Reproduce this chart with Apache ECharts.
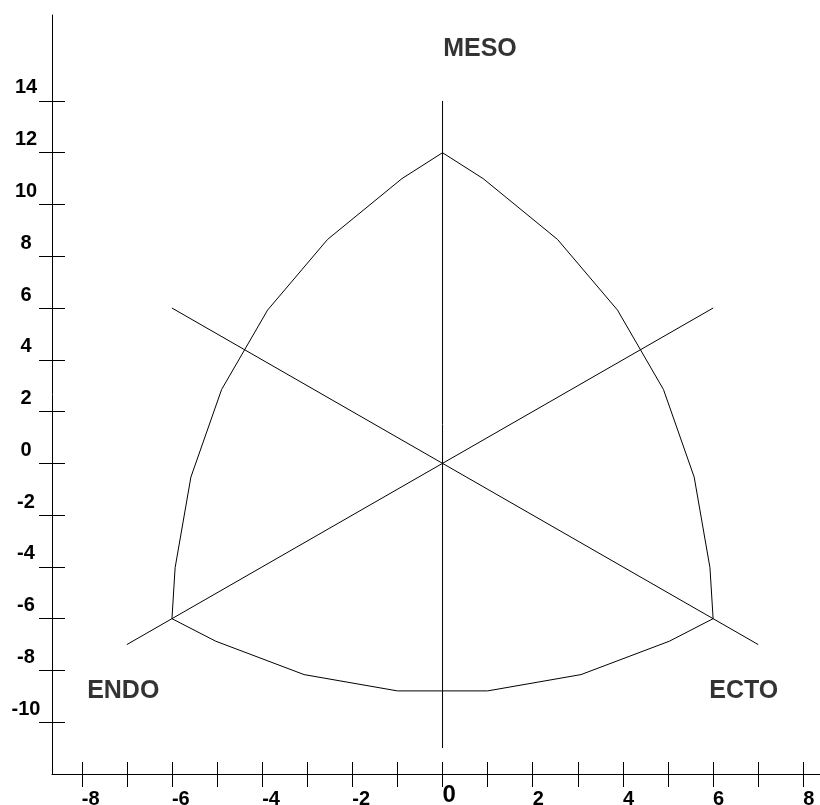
<!DOCTYPE html>
<html style="height: 100%">
<head>
    <meta charset="utf-8">
</head>
<body style="height: 100%;width: 100%;margin: 0;">
    <div id="container" style="width: 820px;height: 805px;"></div>
    <script type="text/javascript" src="https://cdn.jsdelivr.net/npm/echarts@6/dist/echarts.min.js"></script>
    <script type="text/javascript">
        // somatochart outline, clockwise from the top
        var outlineX = [0, 0.9, 2.55, 3.88, 4.9, 5.58, 5.93, 6, 5.03, 3.07, 1.0, -1.0, -3.07, -5.03, -6, -5.93, -5.58, -4.9, -3.88, -2.55, -0.9, 0];
        var outlineY = [12, 11, 8.65, 5.92, 2.85, -0.53, -4.03, -6, -6.87, -8.16, -8.79, -8.79, -8.16, -6.87, -6, -4.03, -0.53, 2.85, 5.92, 8.65, 11, 12];

        // the three axes of the triangle
        var mesoAxis = [[0, 14], [0, -11]];
        var endoAxis = [[6, 6], [-7, -7]];
        var ectoAxis = [[-6, 6], [7, -7]];

        var cornerNames = ['MESO', 'ENDO', 'ECTO'];
        var cornerPos = [[0.83, 16.0], [-7.08, -8.81], [6.68, -8.81]];

        var xTicks = [-8, -7, -6, -5, -4, -3, -2, -1, 0, 1, 2, 3, 4, 5, 6, 7, 8];
        var xLabels = [-8, -6, -4, -2, 2, 4, 6, 8];
        var xZeroLabel = [0];
        var yTicks = [-10, -8, -6, -4, -2, 0, 2, 4, 6, 8, 10, 12, 14];

        var outline = outlineX.map(function (x, i) { return [x, outlineY[i]]; });
        var corners = cornerNames.map(function (n, i) { return { name: n, value: cornerPos[i] }; });

        var dom = document.getElementById("container");
        var myChart = echarts.init(dom);

        var font = 'Liberation Sans, Arial, sans-serif';
        var lineStyle = { color: '#000', width: 1 };
        var xMin = -8.66, xMax = 8.37, yMin = -12, yMax = 17.32;

        var option = {
            animation: false,
            backgroundColor: '#fff',
            grid: { left: 52, right: 0, top: 15, bottom: 31, outerBoundsMode: 'none' },
            xAxis: [{
                type: 'value', min: xMin, max: xMax, position: 'bottom',
                splitLine: { show: false },
                axisLine: { onZero: false, lineStyle: lineStyle },
                axisTick: { customValues: xTicks, length: 13, inside: false, lineStyle: lineStyle },
                axisLabel: {
                    customValues: xLabels, margin: 15, align: 'left',
                    fontFamily: font, fontWeight: 'bold', fontSize: 20, color: '#000'
                }
            }, {
                type: 'value', min: xMin, max: xMax, position: 'bottom',
                splitLine: { show: false },
                axisLine: { show: false, onZero: false },
                axisTick: { customValues: xTicks, length: 12, inside: true, lineStyle: lineStyle },
                axisLabel: { show: false }
            }, {
                // the 0 under the origin is printed larger and a bit higher
                type: 'value', min: xMin, max: xMax, position: 'bottom',
                splitLine: { show: false },
                axisLine: { show: false, onZero: false },
                axisTick: { show: false },
                axisLabel: {
                    customValues: xZeroLabel, margin: 9, align: 'left',
                    fontFamily: font, fontWeight: 'bold', fontSize: 24, color: '#000'
                }
            }],
            yAxis: [{
                type: 'value', min: yMin, max: yMax, position: 'left',
                splitLine: { show: false },
                axisLine: { onZero: false, lineStyle: lineStyle },
                axisTick: { customValues: yTicks, length: 13, inside: false, lineStyle: lineStyle },
                axisLabel: {
                    customValues: yTicks, margin: 26, align: 'center', verticalAlign: 'bottom',
                    lineHeight: 26,
                    fontFamily: font, fontWeight: 'bold', fontSize: 20, color: '#000'
                }
            }, {
                type: 'value', min: yMin, max: yMax, position: 'left',
                splitLine: { show: false },
                axisLine: { show: false, onZero: false },
                axisTick: { customValues: yTicks, length: 13, inside: true, lineStyle: lineStyle },
                axisLabel: { show: false }
            }],
            series: [{
                name: 'outline', type: 'line', data: outline,
                symbol: 'none', lineStyle: lineStyle, silent: true
            }, {
                name: 'meso', type: 'line', data: mesoAxis,
                symbol: 'none', lineStyle: lineStyle, silent: true
            }, {
                name: 'endo', type: 'line', data: endoAxis,
                symbol: 'none', lineStyle: lineStyle, silent: true
            }, {
                name: 'ecto', type: 'line', data: ectoAxis,
                symbol: 'none', lineStyle: lineStyle, silent: true
            }, {
                name: 'names', type: 'scatter', data: corners, symbolSize: 0,
                itemStyle: { color: '#000' },
                label: {
                    show: true, position: 'inside', formatter: '{b}',
                    fontFamily: font, fontWeight: 'bold', fontSize: 25, color: '#000'
                },
                silent: true
            }]
        };

        myChart.setOption(option);
    </script>
</body>
</html>
